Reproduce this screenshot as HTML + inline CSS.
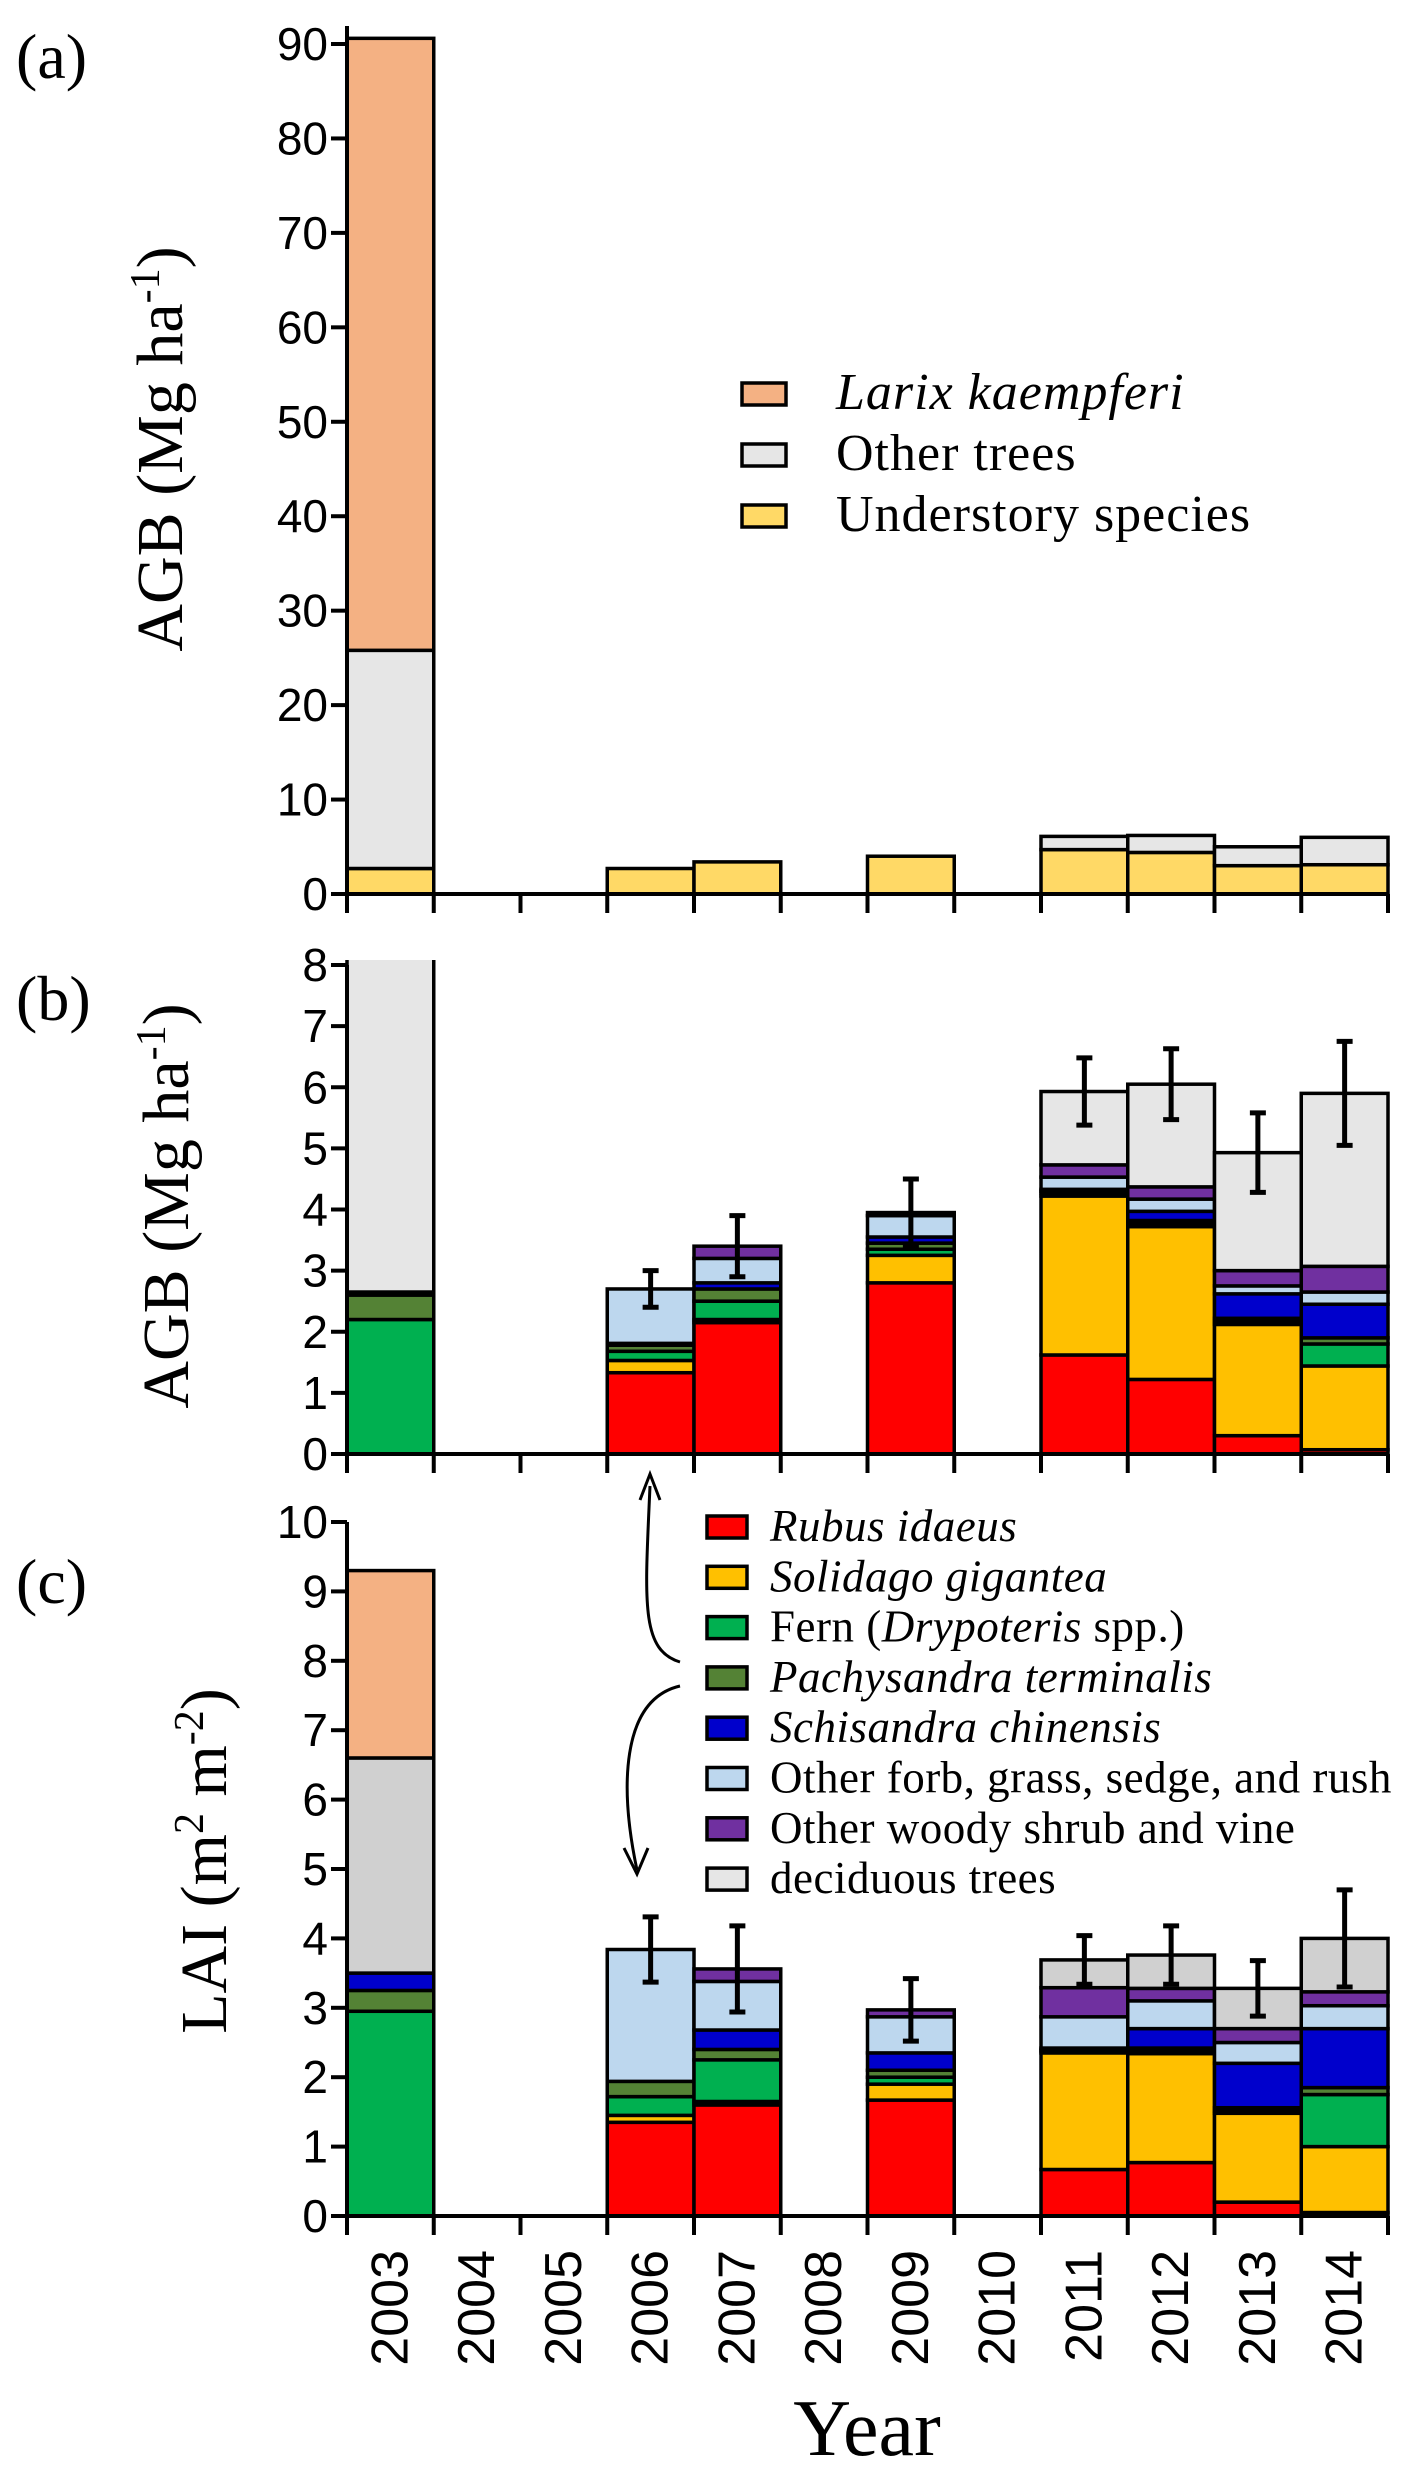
<!DOCTYPE html>
<html><head><meta charset="utf-8">
<style>
html,body{margin:0;padding:0;background:#fff;}
svg{display:block;}
.tick{font-family:"Liberation Sans Narrow","Liberation Sans",sans-serif;font-size:46px;fill:#000;}
.serif{font-family:"Liberation Serif",serif;fill:#000;}
</style></head>
<body>
<svg id="chart" width="1419" height="2475" viewBox="0 0 1419 2475" xmlns="http://www.w3.org/2000/svg">
<defs><clipPath id="clipB"><rect x="340" y="960" width="1060" height="500"/></clipPath></defs>
</svg>
<script>
const years = ["2003","2004","2005","2006","2007","2008","2009","2010","2011","2012","2013","2014"];
// Panel a
const aUnder = [2.7,0,0,2.7,3.4,0,4.0,0,4.7,4.4,3.0,3.1];
const aOther = [23.1,0,0,0,0,0,0,0,1.4,1.8,2.0,2.9];
const aLarix = [64.8,0,0,0,0,0,0,0,0,0,0,0];
const aTicks = [0,10,20,30,40,50,60,70,80,90];
// Panel b (AGB by species)
const bRubus = [0,0,0,1.33,2.15,0,2.8,0,1.62,1.22,0.3,0.07];
const bSolid = [0,0,0,0.2,0.05,0,0.45,0,2.6,2.5,1.82,1.37];
const bFern  = [2.2,0,0,0.15,0.3,0,0.1,0,0.05,0.05,0.05,0.36];
const bPachy = [0.4,0,0,0.1,0.2,0,0.1,0,0.03,0.05,0.05,0.1];
const bSchis = [0.05,0,0,0.03,0.1,0,0.1,0,0.03,0.15,0.4,0.55];
const bForb  = [0,0,0,0.89,0.4,0,0.35,0,0.2,0.2,0.13,0.2];
const bWoody = [0,0,0,0,0.2,0,0.05,0,0.2,0.2,0.25,0.42];
const bTrees = [23.35,0,0,0,0,0,0,0,1.2,1.68,1.93,2.83];
const bErr   = [0,0,0,0.3,0.5,0,0.55,0,0.55,0.58,0.65,0.85];
const bTicks = [0,1,2,3,4,5,6,7,8];
// Panel c (LAI by species)
const cRubus = [0,0,0,1.35,1.6,0,1.67,0,0.67,0.77,0.2,0.05];
const cSolid = [0,0,0,0.1,0.05,0,0.23,0,1.68,1.57,1.28,0.95];
const cFern  = [2.95,0,0,0.27,0.6,0,0.1,0,0.03,0.03,0.03,0.75];
const cPachy = [0.3,0,0,0.22,0.15,0,0.1,0,0.02,0.05,0.05,0.1];
const cSchis = [0.25,0,0,0,0.28,0,0.25,0,0.02,0.28,0.64,0.85];
const cForb  = [0,0,0,1.9,0.7,0,0.52,0,0.45,0.4,0.3,0.33];
const cWoody = [0,0,0,0,0.18,0,0.1,0,0.42,0.18,0.2,0.2];
const cTrees = [3.1,0,0,0,0,0,0,0,0.4,0.48,0.58,0.77];
const cLarix = [2.7,0,0,0,0,0,0,0,0,0,0,0];
const cErr   = [0,0,0,0.47,0.62,0,0.45,0,0.35,0.42,0.4,0.7];
const cTicks = [0,1,2,3,4,5,6,7,8,9,10];

const svg = document.getElementById('chart');
const NS = "http://www.w3.org/2000/svg";
function mk(tag, attrs, parent){const e=document.createElementNS(NS,tag);for(const k in attrs)e.setAttribute(k,attrs[k]);(parent||svg).appendChild(e);return e;}
const X0=347, X1=1388, bw=(X1-X0)/years.length;
const xPos = i => X0 + i*bw;
function yScale(y0px,ytop,vmax){return v => y0px - v*(y0px-ytop)/vmax;}
const C={rubus:"#ff0000",solid:"#ffc000",fern:"#00b050",pachy:"#548235",schis:"#0000cc",forb:"#bdd7ee",woody:"#7030a0",trees:"#e6e6e6",treesC:"#d0d0d0",larix:"#f4b183",under:"#ffd966"};

function drawPanel(name, y, vmax, ticks, series, err, clip){
  const g = mk('g',{});
  
  
  if(clip) g.setAttribute('clip-path','url(#'+clip+')');
  years.forEach((yr,i)=>{
    let acc=0;
    series.forEach(s=>{
      const v=s.data[i]; if(v<=0) return;
      const r=mk('rect',{x:xPos(i),y:y(acc+v),width:bw,height:y(acc)-y(acc+v),fill:s.color,stroke:"#000","stroke-width":3.5},g);
      
      
      acc+=v;
    });
    if(err && err[i]>0){
      const cx=xPos(i)+bw/2;
      const eg=mk('g',{stroke:"#000","stroke-width":5},svg);
      
      
      mk('line',{x1:cx,x2:cx,y1:y(acc-err[i]),y2:y(acc+err[i])},eg);
      mk('line',{x1:cx-8,x2:cx+8,y1:y(acc-err[i]),y2:y(acc-err[i])},eg);
      mk('line',{x1:cx-8,x2:cx+8,y1:y(acc+err[i]),y2:y(acc+err[i])},eg);
    }
  });
  const ax=mk('g',{stroke:"#000","stroke-width":4});
  
  
  const top=y(vmax), bot=y(0);
  mk('line',{x1:X0,x2:X0,y1:Math.min(top, y(ticks[ticks.length-1]))-(name==='panel-a'?18:0),y2:bot+19},ax);
  mk('line',{x1:X0-16,x2:X1,y1:bot,y2:bot},ax);
  for(let i=0;i<=years.length;i++) mk('line',{x1:xPos(i),x2:xPos(i),y1:bot,y2:bot+19},ax);
  ticks.forEach(t=>{
    mk('line',{x1:X0-16,x2:X0,y1:y(t),y2:y(t)},ax);
    const tx=mk('text',{x:328,y:y(t)+16,"text-anchor":"end",class:"tick"});
    tx.textContent=t;
    
    
  });
}
const ya=yScale(894,44,90);
drawPanel('panel-a',ya,90,aTicks,[
  {key:'understory',data:aUnder,color:C.under},
  {key:'other-trees',data:aOther,color:C.trees},
  {key:'larix',data:aLarix,color:C.larix}],null,null);
const yb=yScale(1454,965,8);
drawPanel('panel-b',yb,8,bTicks,[
  {key:'rubus',data:bRubus,color:C.rubus},{key:'solidago',data:bSolid,color:C.solid},
  {key:'fern',data:bFern,color:C.fern},{key:'pachysandra',data:bPachy,color:C.pachy},
  {key:'schisandra',data:bSchis,color:C.schis},{key:'forb',data:bForb,color:C.forb},
  {key:'woody',data:bWoody,color:C.woody},{key:'trees',data:bTrees,color:C.trees}],bErr,'clipB');
const yc=yScale(2216,1522,10);
drawPanel('panel-c',yc,10,cTicks,[
  {key:'rubus',data:cRubus,color:C.rubus},{key:'solidago',data:cSolid,color:C.solid},
  {key:'fern',data:cFern,color:C.fern},{key:'pachysandra',data:cPachy,color:C.pachy},
  {key:'schisandra',data:cSchis,color:C.schis},{key:'forb',data:cForb,color:C.forb},
  {key:'woody',data:cWoody,color:C.woody},{key:'trees',data:cTrees,color:C.treesC},
  {key:'larix',data:cLarix,color:C.larix}],cErr,null);

years.forEach((yr,i)=>{
  const cx=xPos(i)+bw/2+17;
  const t=mk('text',{x:0,y:0,transform:`translate(${cx},2250) rotate(-90)`,"text-anchor":"end",class:"tick",style:"font-size:52px"});
  t.textContent=yr;
  
  
});
function txt(name,attrs,content,html){const t=mk('text',attrs);if(html)t.innerHTML=content;else t.textContent=content;return t;}
txt('x-axis-title',{x:867,y:2455,"text-anchor":"middle",class:"serif","font-size":80},'Year');
txt('panel-a-label',{x:16,y:78,class:"serif","font-size":64},'(a)');
txt('panel-b-label',{x:16,y:1020,class:"serif","font-size":64},'(b)');
txt('panel-c-label',{x:16,y:1603,class:"serif","font-size":64},'(c)');
txt('panel-a-y-title',{transform:"translate(182,449) rotate(-90)","text-anchor":"middle",class:"serif","font-size":66},'AGB (Mg ha<tspan baseline-shift="super" font-size="42">-1</tspan>)',true);
txt('panel-b-y-title',{transform:"translate(188,1206) rotate(-90)","text-anchor":"middle",class:"serif","font-size":66},'AGB (Mg ha<tspan baseline-shift="super" font-size="42">-1</tspan>)',true);
txt('panel-c-y-title',{transform:"translate(226,1861) rotate(-90)","text-anchor":"middle",class:"serif","font-size":66},'LAI (m<tspan baseline-shift="super" font-size="42">2</tspan> m<tspan baseline-shift="super" font-size="42">-2</tspan>)',true);

const legA=[["Larix kaempferi",C.larix,true],["Other trees",C.trees,false],["Understory species",C.under,false]];
legA.forEach((l,i)=>{
  const yy=394+i*61;
  const r=mk('rect',{x:742,y:yy-11,width:44,height:22,fill:l[1],stroke:"#000","stroke-width":3.5});
   
  txt('legend-a-entry',{x:836,y:yy+15,class:"serif","font-size":52,"font-style":l[2]?"italic":"normal","letter-spacing":"1"},l[0]);
});
const legC=[["<tspan font-style='italic'>Rubus idaeus</tspan>",C.rubus],["<tspan font-style='italic'>Solidago gigantea</tspan>",C.solid],
 ["Fern (<tspan font-style='italic'>Drypoteris</tspan> spp.)",C.fern],["<tspan font-style='italic'>Pachysandra terminalis</tspan>",C.pachy],
 ["<tspan font-style='italic'>Schisandra chinensis</tspan>",C.schis],["Other forb, grass, sedge, and rush",C.forb],
 ["Other woody shrub and vine",C.woody],["deciduous trees",C.trees]];
legC.forEach((l,i)=>{
  const yy=1527+i*50.3;
  const r=mk('rect',{x:707,y:yy-11,width:40,height:22,fill:l[1],stroke:"#000","stroke-width":3.5});
   
  txt('legend-c-entry',{x:770,y:yy+14,class:"serif","font-size":45,"letter-spacing":"0.5"},l[0],true);
});
const ar=mk('g',{stroke:"#000","stroke-width":3,fill:"none"});
 
mk('path',{d:"M680,1662 C640,1650 645,1600 650,1486"},ar);
mk('path',{d:"M640,1500 L650,1474 L660,1500"},ar);
mk('path',{d:"M680,1686 C620,1700 620,1790 637,1870"},ar);
mk('path',{d:"M624,1848 L637,1874 L648,1848"},ar);
</script>
</body></html>
